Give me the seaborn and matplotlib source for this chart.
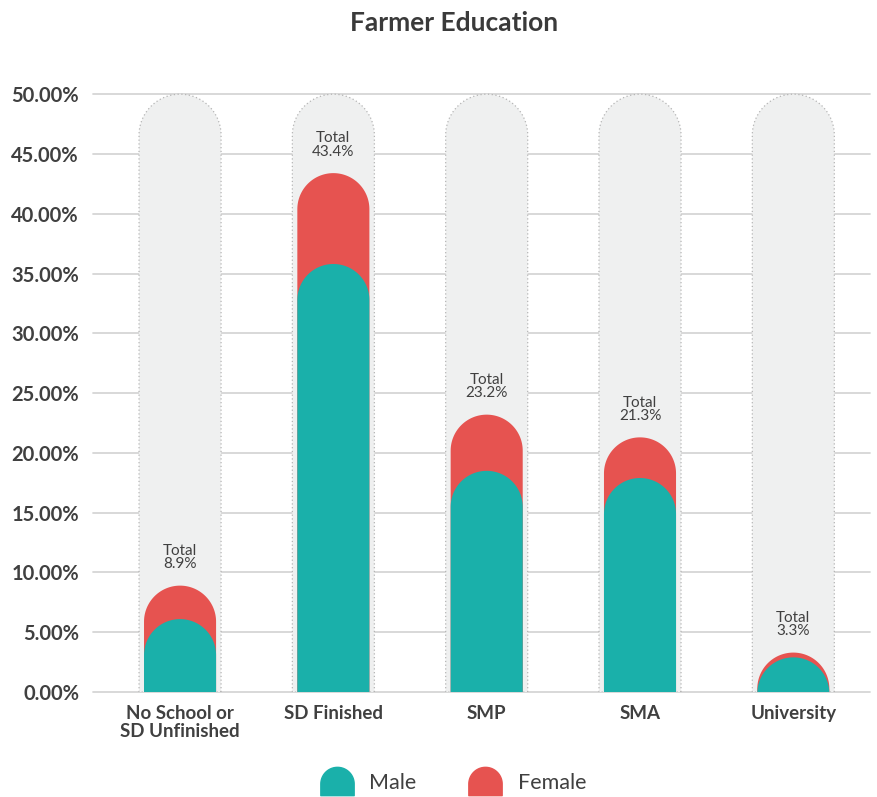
import numpy as np
import pandas as pd
import matplotlib
matplotlib.use("Agg")
import matplotlib.pyplot as plt
from matplotlib.path import Path
from matplotlib.patches import PathPatch
from matplotlib.lines import Line2D
import seaborn as sns

# ---- data ----
categories = ["No School or\nSD Unfinished", "SD Finished", "SMP", "SMA", "University"]
total_pct = [8.9, 43.4, 23.2, 21.3, 3.3]
male_pct = [6.1, 35.8, 18.5, 17.9, 2.9]
female_pct = [round(t - m, 1) for t, m in zip(total_pct, male_pct)]
y_ticks = [0, 5, 10, 15, 20, 25, 30, 35, 40, 45, 50]
scale_max = y_ticks[-1]

TEAL = "#1AB0AA"
RED = "#E65350"
CAPSULE = "#EFF0F0"
TXT = "#404040"

df = pd.DataFrame({
    "category": categories,
    "male": male_pct,
    "female": female_pct,
    "total": total_pct,
    "scale": [scale_max] * len(categories),
})

sns.set_theme(style="white")
plt.rcParams["font.family"] = ["Lato", "DejaVu Sans"]

fig = plt.figure(figsize=(8.77, 7.97), dpi=100)
ax = fig.add_axes([0.106, 0.1317, 0.886, 0.7576])

# background capsules
sns.barplot(data=df, x="category", y="scale", color=CAPSULE, width=0.535, ax=ax,
            saturation=1)
n0 = len(ax.patches)
bg_patches = list(ax.patches[:n0])
# female (total) bars
sns.barplot(data=df, x="category", y="total", color=RED, width=0.47, ax=ax, saturation=1)
n1 = len(ax.patches)
fem_patches = list(ax.patches[n0:n1])
# male bars
sns.barplot(data=df, x="category", y="male", color=TEAL, width=0.47, ax=ax, saturation=1)
male_patches = list(ax.patches[n1:])

ax.set_xlim(-0.568, 4.5)
ax.set_ylim(0, 50.5)

# pixel aspect
p0 = ax.transData.transform((0, 0))
px_x = ax.transData.transform((1, 0))[0] - p0[0]
px_y = ax.transData.transform((0, 1))[1] - p0[1]


def dome(rect, **kw):
    x0 = rect.get_x()
    w = rect.get_width()
    h = rect.get_height()
    rx = w / 2
    xc = x0 + rx
    ry = rx * px_x / px_y
    cy = h - ry
    base = min(0, cy)
    th = np.linspace(0, np.pi, 80)
    verts = [(xc + rx, base)] + list(zip(xc + rx * np.cos(th), cy + ry * np.sin(th))) + \
            [(xc - rx, base), (xc + rx, base)]
    codes = [Path.MOVETO] + [Path.LINETO] * (len(verts) - 2) + [Path.CLOSEPOLY]
    rect.set_visible(False)
    patch = PathPatch(Path(verts, codes), **kw)
    ax.add_patch(patch)
    return patch


for r in bg_patches:
    dome(r, facecolor=CAPSULE, edgecolor="#b5b5b5", linewidth=0.9,
         linestyle=(0, (1, 2)), zorder=1)
for r in fem_patches:
    dome(r, facecolor=RED, edgecolor="none", zorder=2)
for r in male_patches:
    dome(r, facecolor=TEAL, edgecolor="none", zorder=3)

# total labels
for i, t in enumerate(total_pct):
    ax.text(i, t + 1.2, f"Total\n{t}%", ha="center", va="bottom", fontsize=11,
            color=TXT, linespacing=0.95, zorder=4)

# grid
for y in y_ticks:
    ax.axhline(y, color="#d6d6d6", linewidth=1.3, zorder=0.5, clip_on=False)

ax.set_yticks(y_ticks)
ax.set_yticklabels([f"{v:.2f}%" for v in y_ticks], fontsize=14.5, fontweight="bold", color=TXT)
ax.set_xticks(range(len(categories)))
ax.set_xticklabels(categories, fontsize=13.5, fontweight="bold", color=TXT, linespacing=1.1)
ax.tick_params(axis="both", length=0)
ax.tick_params(axis="y", pad=10)
ax.tick_params(axis="x", pad=9)
ax.set_xlabel("")
ax.set_ylabel("")
ax.grid(False)
for s in ax.spines.values():
    s.set_visible(False)

fig.text(454 / 877, 1 - 23 / 797, "Farmer Education", ha="center", va="center",
         fontsize=19, fontweight="bold", color="#3a3a3a")

# legend with dome markers
th = np.linspace(0, np.pi, 40)
mverts = [(1, -0.85)] + list(zip(np.cos(th), np.sin(th) - 0.15)) + [(-1, -0.85), (1, -0.85)]
mcodes = [Path.MOVETO] + [Path.LINETO] * (len(mverts) - 2) + [Path.CLOSEPOLY]
dome_marker = Path(mverts, mcodes)
handles = [
    Line2D([], [], marker=dome_marker, markersize=24, color=TEAL, linestyle="none", label="Male"),
    Line2D([], [], marker=dome_marker, markersize=24, color=RED, linestyle="none", label="Female"),
]
leg = fig.legend(handles=handles, loc="center", bbox_to_anchor=(453 / 877, 1 - 783 / 797),
                 ncol=2, frameon=False, fontsize=15.5, handletextpad=0.7, columnspacing=2.4,
                 handlelength=1.6)
for t in leg.get_texts():
    t.set_color(TXT)

fig.savefig("out.png", dpi=100)
